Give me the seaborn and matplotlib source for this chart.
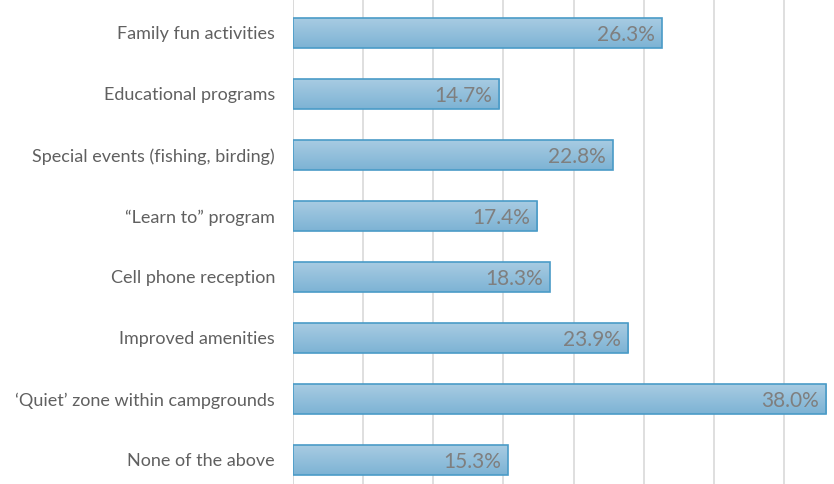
import numpy as np
import pandas as pd
import matplotlib
matplotlib.use("Agg")
import matplotlib.pyplot as plt
from matplotlib.colors import LinearSegmentedColormap
import seaborn as sns

# data
categories = [
    "Family fun activities",
    "Educational programs",
    "Special events (fishing, birding)",
    "\u201cLearn to\u201d program",
    "Cell phone reception",
    "Improved amenities",
    "\u2018Quiet\u2019 zone within campgrounds",
    "None of the above",
]
percents = [26.3, 14.7, 22.8, 17.4, 18.3, 23.9, 38.0, 15.3]

df = pd.DataFrame({"Option": categories, "Percent": percents})

sns.set_style("white")
plt.rcParams["font.family"] = ["Lato", "DejaVu Sans"]

fig = plt.figure(figsize=(8.34, 4.84), dpi=100)
ax = fig.add_axes([293 / 834, 0, (834 - 293) / 834, 1])

sns.barplot(data=df, x="Percent", y="Option", orient="h", width=0.5,
            color="#93bfdc", edgecolor="#4a9bc7", linewidth=1.2, ax=ax)

# vertical gradient in each bar (light on top, darker below)
grad = LinearSegmentedColormap.from_list("g", ["#a9cce3", "#7db3d4"])
for p in ax.patches:
    x0, y0 = p.get_x(), p.get_y()
    w, h = p.get_width(), p.get_height()
    img = ax.imshow(np.linspace(0, 1, 50).reshape(-1, 1), cmap=grad,
                    aspect="auto", extent=[x0, x0 + w, y0 + h, y0],
                    zorder=p.get_zorder() - 0.1, interpolation="bicubic")
    img.set_clip_path(p)
    p.set_facecolor("none")
    p.set_zorder(3)

for i, v in enumerate(percents):
    ax.text(v - 0.5, i + 0.04, f"{v:.1f}%", ha="right", va="center",
            fontsize=15, color="#7f7f7f", zorder=5)

ax.set_xlim(0, 38.56)
ax.set_ylim((484 - 33) / 61, -33 / 61)
ax.set_xticks(np.arange(0, 40, 5))
ax.set_xticklabels([])
ax.grid(axis="x", color="#d9d9d9", linewidth=1.2)
ax.set_axisbelow(True)
ax.set_xlabel("")
ax.set_ylabel("")
ax.tick_params(axis="y", length=0, pad=13, labelsize=13, labelcolor="#606060")
ax.tick_params(axis="x", length=0)
for s in ax.spines.values():
    s.set_visible(False)
ax.axvline(0, color="#d9d9d9", linewidth=1.2, zorder=0)

fig.savefig("out.png", dpi=100)
